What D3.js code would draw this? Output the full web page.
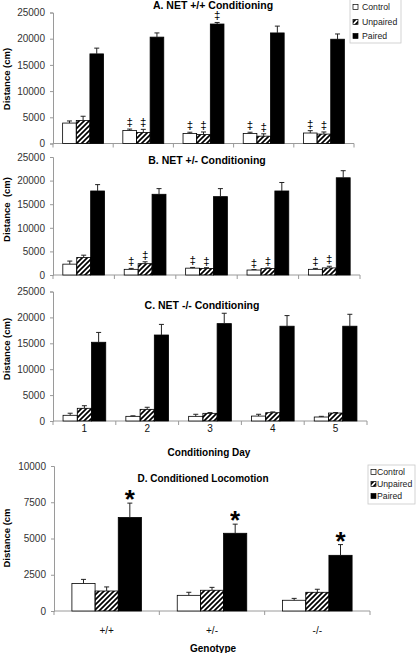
<!DOCTYPE html>
<html><head><meta charset="utf-8">
<script src="https://cdn.jsdelivr.net/npm/d3@7"></script>
<style>
body{margin:0;background:#fff}
svg{display:block}
text{font-family:"Liberation Sans",Arial,Helvetica,sans-serif}
.sig{opacity:0.999}
</style>
</head><body>
<svg id="c" width="417" height="653"></svg>
<script>
// ---------- DATA ----------
const days = ["1","2","3","4","5"];
const genotypes = ["+/+","+/-","-/-"];
const seriesNames = ["Control","Unpaired","Paired"];
const yTicksDay = [0,5000,10000,15000,20000,25000];
const yTicksLoco = [0,2500,5000,7500,10000];

// Panel A: NET +/+ conditioning
const aControl     = [3900, 2500, 1900, 1900, 2000];
const aControlSem  = [400, 250, 250, 250, 450];
const aUnpaired    = [4400, 2100, 1700, 1400, 1800];
const aUnpairedSem = [800, 600, 500, 450, 400];
const aPaired      = [17100, 20300, 22800, 21100, 19900];
const aPairedSem   = [1100, 800, 300, 1300, 1000];
const aControlSig  = [0,1,1,1,1];
const aUnpairedSig = [0,1,1,1,1];
const aPairedSig   = [0,0,1,0,0];

// Panel B: NET +/- conditioning
const bControl     = [2300, 1200, 1450, 1050, 1200];
const bControlSem  = [650, 200, 150, 100, 200];
const bUnpaired    = [3700, 2400, 1400, 1350, 1500];
const bUnpairedSem = [500, 400, 150, 150, 350];
const bPaired      = [17800, 17100, 16600, 17800, 20600];
const bPairedSem   = [1350, 1200, 1700, 1800, 1500];
const bControlSig  = [0,1,1,1,1];
const bUnpairedSig = [0,1,1,1,1];
const bPairedSig   = [0,0,0,0,0];

// Panel C: NET -/- conditioning
const cControl     = [1100, 900, 900, 950, 770];
const cControlSem  = [400, 100, 400, 350, 130];
const cUnpaired    = [2450, 2250, 1480, 1600, 1540];
const cUnpairedSem = [500, 400, 150, 150, 100];
const cPaired      = [15200, 16600, 18800, 18300, 18300];
const cPairedSem   = [1900, 2050, 2000, 2050, 2300];

// Panel D: conditioned locomotion
const dControl     = [1900, 1080, 740];
const dControlSem  = [280, 210, 130];
const dUnpaired    = [1380, 1430, 1290];
const dUnpairedSem = [280, 200, 210];
const dPaired      = [6450, 5360, 3840];
const dPairedSem   = [990, 630, 740];
const dPairedStar  = [1,1,1];

// ---------- DRAWING ----------
const FONT = "'Liberation Sans', Arial, Helvetica, sans-serif";
const svg = d3.select("#c");
const defs = svg.append("defs");
defs.append("pattern").attr("id","hatch").attr("patternUnits","userSpaceOnUse")
  .attr("width",5).attr("height",5)
  .append("path").attr("d","M-1,1 l2,-2 M0,5 l5,-5 M4,6 l2,-2")
  .attr("stroke","#000").attr("stroke-width",1.7);

const fills = {Control:"#fff", Unpaired:"url(#hatch)", Paired:"#000"};
const zeros = n => new Array(n).fill(0);

function panel(cfg){
  const g = svg.append("g");
  const x0 = d3.scaleBand().domain(cfg.cats).range(cfg.xRange)
    .paddingInner(cfg.pad).paddingOuter(cfg.pad/2);
  const x1 = d3.scaleBand().domain(seriesNames).range([0, x0.bandwidth()]);
  const y = d3.scaleLinear().domain([0, cfg.yMax]).range([cfg.y0, cfg.yTop]);

  // y axis
  const ya = g.append("g").attr("transform",`translate(${cfg.xRange[0]},0)`)
    .call(d3.axisLeft(y).tickValues(cfg.ticks).tickSize(3).tickPadding(5).tickFormat(d3.format("d")));
  ya.attr("font-family",FONT);
  ya.select(".domain").attr("stroke","#9a9a9a");
  ya.selectAll(".tick line").attr("stroke","#9a9a9a");
  ya.selectAll(".tick text").attr("fill","#333").style("font-size","10px");

  // x axis line + boundary ticks
  g.append("line").attr("x1",cfg.xRange[0]).attr("x2",cfg.xRange[1])
    .attr("y1",cfg.y0).attr("y2",cfg.y0).attr("stroke","#9a9a9a");
  const bounds = d3.range(cfg.cats.length+1).map(i => cfg.xRange[0] + i*x0.step());
  g.selectAll(".bt").data(bounds).join("line")
    .attr("x1",d=>d).attr("x2",d=>d).attr("y1",cfg.y0).attr("y2",cfg.y0+4)
    .attr("stroke","#9a9a9a");

  // bars
  const rows = [];
  cfg.series.forEach(s => s.values.forEach((v,i) => rows.push({
    cat: cfg.cats[i], name: s.name, v, sem: s.sem[i], sig: s.sig ? s.sig[i] : 0})));
  g.selectAll(".bar").data(rows).join("rect")
    .attr("x", d => x0(d.cat) + x1(d.name))
    .attr("y", d => y(d.v))
    .attr("width", x1.bandwidth())
    .attr("height", d => cfg.y0 - y(d.v))
    .attr("fill", d => fills[d.name])
    .attr("stroke","#000").attr("stroke-width",0.8);

  // error bars (upper only)
  const cx = d => x0(d.cat) + x1(d.name) + x1.bandwidth()/2;
  g.selectAll(".eb").data(rows).join("line")
    .attr("x1",cx).attr("x2",cx)
    .attr("y1",d=>y(d.v)).attr("y2",d=>y(d.v+d.sem))
    .attr("stroke","#222").attr("stroke-width",1);
  g.selectAll(".ec").data(rows).join("line")
    .attr("x1",d=>cx(d)-2.5).attr("x2",d=>cx(d)+2.5)
    .attr("y1",d=>y(d.v+d.sem)).attr("y2",d=>y(d.v+d.sem))
    .attr("stroke","#222").attr("stroke-width",1);

  // significance marks
  g.selectAll(".sg").data(rows.filter(d=>d.sig)).join("text")
    .attr("class","sig")
    .attr("x",cx).attr("y",d=>y(d.v+d.sem) - cfg.sigOff)
    .attr("text-anchor","middle")
    .attr("font-family", cfg.sigFont || FONT)
    .style("font-size",cfg.sigSize+"px").style("font-weight",cfg.sigBold?"bold":"normal")
    .attr("fill","#000").text(cfg.sigChar);

  // title
  g.append("text").attr("x",cfg.titleX).attr("y",cfg.titleY).attr("text-anchor","middle")
    .attr("font-family",FONT)
    .style("font-size",cfg.titleSize+"px").style("font-weight","bold").text(cfg.title);
  // y label
  g.append("text").attr("transform",`translate(6,${cfg.ylabelY}) rotate(-90)`)
    .attr("text-anchor","middle").attr("dominant-baseline","central")
    .attr("font-family",FONT)
    .style("font-size","9.5px").style("font-weight","bold").style("white-space","pre")
    .text(cfg.ylabel);
  // x tick labels
  if (cfg.xLabels){
    g.selectAll(".xl").data(cfg.cats).join("text")
      .attr("x",d=>x0(d)+x0.bandwidth()/2).attr("y",cfg.xLabelY)
      .attr("text-anchor","middle").attr("font-family",FONT)
      .style("font-size","10px").attr("fill","#111").text(d=>d);
    g.append("text").attr("x",cfg.xTitleX).attr("y",cfg.xTitleY).attr("text-anchor","middle")
      .attr("font-family",FONT)
      .style("font-size","10px").style("font-weight","bold").text(cfg.xTitle);
  }
  return g;
}

function legend(x,y,w,h,mx,tx,rowsY,fs){
  const g = svg.append("g");
  g.append("rect").attr("x",x).attr("y",y).attr("width",w).attr("height",h)
    .attr("fill","#fff").attr("stroke","#c8c8c8").attr("stroke-width",0.8);
  seriesNames.forEach((n,i)=>{
    g.append("rect").attr("x",mx).attr("y",rowsY[i]-2.5).attr("width",5).attr("height",5)
      .attr("fill",fills[n]).attr("stroke","#000").attr("stroke-width",0.7);
    g.append("text").attr("x",tx).attr("y",rowsY[i]).attr("dominant-baseline","central")
      .attr("font-family",FONT)
      .style("font-size",fs+"px").attr("fill","#222").text(n);
  });
}

panel({cats:days, xRange:[53,354], pad:0.32, y0:143.5, yTop:12.5, yMax:25000, ticks:yTicksDay,
  series:[{name:"Control",values:aControl,sem:aControlSem,sig:aControlSig},
          {name:"Unpaired",values:aUnpaired,sem:aUnpairedSem,sig:aUnpairedSig},
          {name:"Paired",values:aPaired,sem:aPairedSem,sig:aPairedSig}],
  sigChar:"‡", sigSize:11.5, sigOff:3, sigFont:"'DejaVu Sans', sans-serif",
  title:"A. NET +/+ Conditioning", titleX:213, titleY:9, titleSize:10.5,
  ylabel:"Distance (cm)", ylabelY:79});

panel({cats:days, xRange:[53,360], pad:0.32, y0:275, yTop:157, yMax:25000, ticks:yTicksDay,
  series:[{name:"Control",values:bControl,sem:bControlSem,sig:bControlSig},
          {name:"Unpaired",values:bUnpaired,sem:bUnpairedSem,sig:bUnpairedSig},
          {name:"Paired",values:bPaired,sem:bPairedSem,sig:bPairedSig}],
  sigChar:"‡", sigSize:11.5, sigOff:3, sigFont:"'DejaVu Sans', sans-serif",
  title:"B. NET +/- Conditioning", titleX:207, titleY:164, titleSize:10.5,
  ylabel:"Distance  (cm)", ylabelY:209.5});

panel({cats:days, xRange:[53,367], pad:0.32, y0:421, yTop:291.5, yMax:25000, ticks:yTicksDay,
  series:[{name:"Control",values:cControl,sem:cControlSem,sig:zeros(5)},
          {name:"Unpaired",values:cUnpaired,sem:cUnpairedSem,sig:zeros(5)},
          {name:"Paired",values:cPaired,sem:cPairedSem,sig:zeros(5)}],
  sigChar:"‡", sigSize:11, sigOff:3,
  title:"C. NET -/- Conditioning", titleX:202, titleY:309, titleSize:10.5,
  ylabel:"Distance (cm)", ylabelY:349,
  xLabels:true, xLabelY:432, xTitle:"Conditioning Day", xTitleX:209, xTitleY:456});

panel({cats:genotypes, xRange:[54,370], pad:0.34, y0:611, yTop:466, yMax:10000, ticks:yTicksLoco,
  series:[{name:"Control",values:dControl,sem:dControlSem,sig:zeros(3)},
          {name:"Unpaired",values:dUnpaired,sem:dUnpairedSem,sig:zeros(3)},
          {name:"Paired",values:dPaired,sem:dPairedSem,sig:dPairedStar}],
  sigChar:"*", sigSize:26, sigBold:true, sigOff:-5,
  title:"D. Conditioned Locomotion", titleX:203, titleY:481.5, titleSize:10,
  ylabel:"Distance (cm", ylabelY:538,
  xLabels:true, xLabelY:634, xTitle:"Genotype", xTitleX:213, xTitleY:652});

legend(350,-1,51,44,353,362,[7,22,36],8.7);
legend(368,465,47,39,371,377,[472,484,496],8.7);
</script>
</body></html>
